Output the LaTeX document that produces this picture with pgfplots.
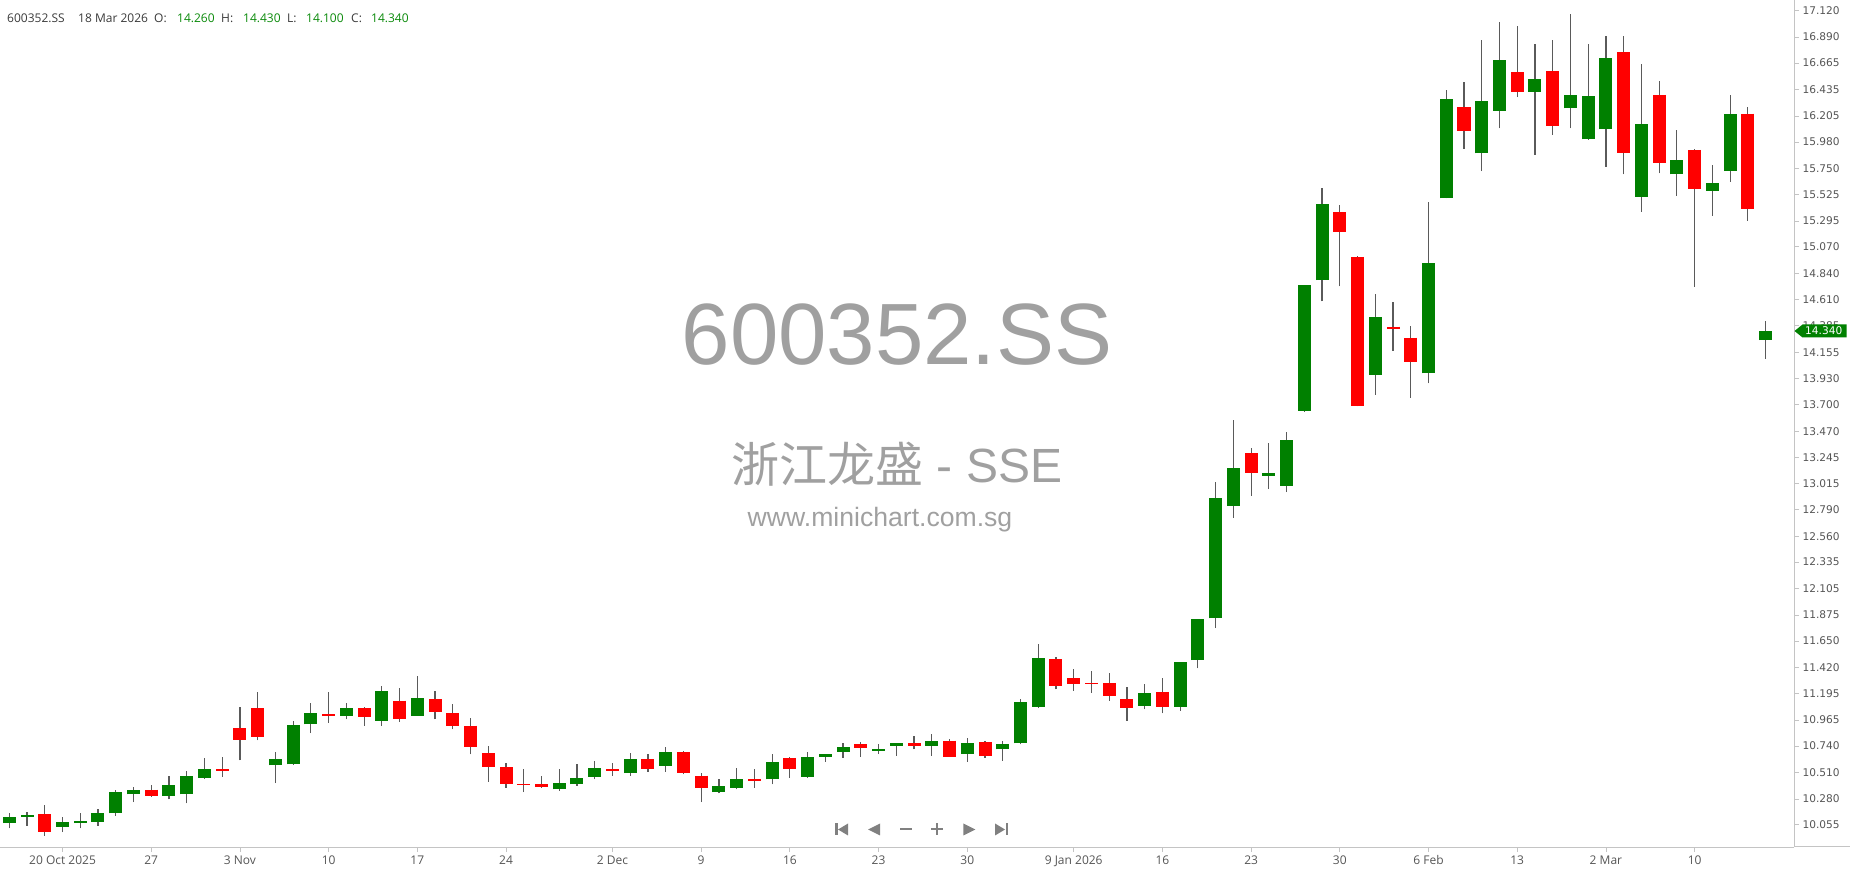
\documentclass[border=0pt]{standalone}
\usepackage{pgfplots}
\pgfplotsset{compat=1.18}
\usepackage{pgfplotstable}
\usepackage{fontspec}
\setmainfont{Open Sans}
\newfontfamily\dejavu{DejaVu Sans}
\newfontfamily\arialf{Liberation Sans}
\newfontfamily\cjk{Noto Sans CJK SC}

\definecolor{up}{HTML}{008000}
\definecolor{down}{HTML}{FF0000}
\definecolor{wick}{HTML}{5A5A5A}
\definecolor{axisgray}{HTML}{C4C4C4}
\definecolor{ticktext}{HTML}{555555}
\definecolor{wm}{HTML}{A0A0A0}
\definecolor{navgray}{HTML}{808080}
\definecolor{hdrtext}{HTML}{3A3A3A}
\definecolor{hdrval}{HTML}{0A8A0A}

% daily OHLC, one row per trading session (i = session index)
\pgfplotstableread{
i O H L C
0 10.071 10.155 10.025 10.120
1 10.126 10.164 10.048 10.138
2 10.146 10.225 9.961 9.993
3 10.039 10.120 9.993 10.080
4 10.071 10.155 10.025 10.091
5 10.080 10.190 10.048 10.155
6 10.155 10.360 10.135 10.340
7 10.320 10.384 10.253 10.360
8 10.360 10.404 10.300 10.308
9 10.308 10.482 10.277 10.404
10 10.320 10.525 10.242 10.482
11 10.462 10.632 10.455 10.537
12 10.537 10.644 10.473 10.525
13 10.893 11.078 10.615 10.788
14 11.066 11.208 10.788 10.820
15 10.572 10.687 10.418 10.624
16 10.580 10.959 10.575 10.924
17 10.927 11.110 10.852 11.023
18 11.014 11.208 10.939 11.003
19 11.003 11.110 10.971 11.066
20 11.066 11.078 10.916 10.991
21 10.959 11.263 10.916 11.219
22 11.133 11.240 10.950 10.971
23 11.003 11.350 11.000 11.153
24 11.144 11.219 10.971 11.034
25 11.023 11.101 10.884 10.916
26 10.916 10.979 10.667 10.731
27 10.676 10.742 10.427 10.557
28 10.557 10.589 10.375 10.407
29 10.407 10.537 10.340 10.398
30 10.407 10.482 10.375 10.386
31 10.363 10.537 10.352 10.415
32 10.407 10.580 10.395 10.462
33 10.473 10.612 10.450 10.548
34 10.537 10.589 10.482 10.525
35 10.505 10.676 10.482 10.624
36 10.624 10.667 10.514 10.537
37 10.569 10.731 10.514 10.687
38 10.687 10.699 10.494 10.505
39 10.482 10.505 10.253 10.375
40 10.340 10.450 10.329 10.395
41 10.375 10.548 10.363 10.450
42 10.450 10.537 10.375 10.439
43 10.450 10.667 10.407 10.601
44 10.636 10.647 10.462 10.537
45 10.474 10.688 10.462 10.647
46 10.647 10.670 10.604 10.668
47 10.688 10.763 10.636 10.731
48 10.754 10.775 10.647 10.722
49 10.699 10.754 10.668 10.711
50 10.743 10.766 10.656 10.763
51 10.763 10.829 10.711 10.743
52 10.743 10.841 10.656 10.786
53 10.786 10.798 10.645 10.647
54 10.668 10.806 10.604 10.763
55 10.775 10.786 10.636 10.656
56 10.711 10.786 10.613 10.754
57 10.763 11.145 10.754 11.122
58 11.078 11.622 11.067 11.500
59 11.492 11.512 11.231 11.263
60 11.327 11.405 11.220 11.275
61 11.286 11.393 11.200 11.275
62 11.286 11.373 11.133 11.177
63 11.145 11.252 10.960 11.067
64 11.090 11.275 11.058 11.197
65 11.208 11.327 11.023 11.078
66 11.078 11.470 11.046 11.469
67 11.484 11.845 11.413 11.840
68 11.846 13.028 11.762 12.889
69 12.825 13.569 12.720 13.149
70 13.279 13.322 12.911 13.106
71 13.084 13.365 12.967 13.106
72 12.998 13.461 12.942 13.396
73 13.646 14.740 13.640 14.736
74 14.782 15.579 14.597 15.446
75 15.369 15.437 14.727 15.199
76 14.983 14.990 13.685 13.689
77 13.961 14.662 13.785 14.464
78 14.378 14.589 14.170 14.355
79 14.282 14.381 13.759 14.074
80 13.973 15.457 13.886 14.933
81 15.491 16.431 15.490 16.353
82 16.281 16.501 15.922 16.075
83 15.882 16.865 15.728 16.333
84 16.252 17.018 16.099 16.691
85 16.584 16.984 16.370 16.414
86 16.414 16.833 15.870 16.529
87 16.593 16.865 16.044 16.119
88 16.272 17.093 16.099 16.388
89 16.003 16.833 16.000 16.376
90 16.090 16.897 15.763 16.712
91 16.758 16.897 15.699 15.882
92 15.503 16.660 15.373 16.139
93 16.388 16.506 15.708 15.795
94 15.699 16.084 15.514 15.824
95 15.911 15.922 14.722 15.569
96 15.558 15.780 15.338 15.627
97 15.728 16.388 15.633 16.226
98 16.226 16.281 15.298 15.396
99 14.260 14.430 14.100 14.340
}\ohlc

\begin{document}
\begin{tikzpicture}[x=1bp,y=1bp]

% background watermark
\node[text=wm, font=\arialf\fontsize{87bp}{90bp}\selectfont, inner sep=0] at (897,512) {600352.SS};
\node[text=wm, font=\arialf\fontsize{48bp}{52bp}\selectfont, inner sep=0] at (897,383) {{\cjk 浙江龙盛} - SSE};
\node[text=wm, font=\arialf\fontsize{26.6bp}{30bp}\selectfont, inner sep=0] at (880,327) {www.minichart.com.sg};

\begin{axis}[
  at={(0,0)}, anchor=south west,
  scale only axis, width=1794bp, height=847bp,
  xmin=-0.524, xmax=100.603, ymin=9.863, ymax=17.212,
  axis x line*=bottom, axis y line*=right,
  axis line style={draw=axisgray, line width=1bp},
  tick align=outside, major tick length=5bp,
  tick style={draw=axisgray, line width=0.8bp},
  xtick={3,8,13,18,23,28,34,39,44,49,54,60,65,70,75,80,85,90,95},
  xticklabels={20 Oct 2025,27,3 Nov,10,17,24,2 Dec,9,16,23,30,9 Jan 2026,16,23,30,6 Feb,13,2 Mar,10},
  ytick={10.055,10.280,10.510,10.740,10.965,11.195,11.420,11.650,11.875,12.105,12.335,12.560,12.790,13.015,13.245,13.470,13.700,13.930,14.155,14.385,14.610,14.840,15.070,15.295,15.525,15.750,15.980,16.205,16.435,16.665,16.890,17.120},
  yticklabels={10.055,10.280,10.510,10.740,10.965,11.195,11.420,11.650,11.875,12.105,12.335,12.560,12.790,13.015,13.245,13.470,13.700,13.930,14.155,14.385,14.610,14.840,15.070,15.295,15.525,15.750,15.980,16.205,16.435,16.665,16.890,17.120},
  xticklabel style={font=\fontsize{12bp}{14bp}\selectfont, text=ticktext},
  yticklabel style={font=\dejavu\fontsize{10.6bp}{12bp}\selectfont, text=ticktext},
]
% wicks: low to high
\addplot[draw=none, mark=none,
  error bars/.cd, y dir=plus, y explicit, error mark=none,
  error bar style={draw=wick, line width=1.2bp}]
  table[x=i, y=L, y error plus expr={\thisrow{H}-\thisrow{L}}] {\ohlc};
% rising bodies: open up to close
\addplot[draw=none, mark=none,
  error bars/.cd, y dir=plus, y explicit, error mark=none,
  error bar style={draw=up, line width=13bp}]
  table[x=i, y=O, y error plus expr={max(\thisrow{C}-\thisrow{O},0)}] {\ohlc};
% falling bodies: open down to close
\addplot[draw=none, mark=none,
  error bars/.cd, y dir=minus, y explicit, error mark=none,
  error bar style={draw=down, line width=13bp}]
  table[x=i, y=O, y error minus expr={max(\thisrow{O}-\thisrow{C},0)}] {\ohlc};
\coordinate (tag) at (axis cs:100.603,14.34);
\end{axis}

% bottom rule continues under the price scale
\draw[axisgray, line width=1bp] (1794,0) -- (1850,0);

% last price tag
\fill[up] ([xshift=0.5bp]tag) -- ++(8,6.5) -- ++(44,0) -- ++(0,-13) -- ++(-44,0) -- cycle;
\node[anchor=west, text=white, inner sep=0, font=\dejavu\fontsize{10.6bp}{12bp}\selectfont] at ([xshift=11bp]tag) {14.340};

% header line
\begin{scope}[every node/.style={anchor=base west, inner sep=0, font=\fontsize{12bp}{14bp}\selectfont}]
\node[text=hdrtext] at (7,824.3) {600352.SS};
\node[text=hdrtext] at (78,824.3) {18 Mar 2026};
\node[text=hdrtext] at (154,824.3) {O:};
\node[text=hdrval] at (177,824.3) {14.260};
\node[text=hdrtext] at (221,824.3) {H:};
\node[text=hdrval] at (243,824.3) {14.430};
\node[text=hdrtext] at (287,824.3) {L:};
\node[text=hdrval] at (306,824.3) {14.100};
\node[text=hdrtext] at (351,824.3) {C:};
\node[text=hdrval] at (371,824.3) {14.340};
\end{scope}

% navigation buttons
\begin{scope}[navgray]
\fill (835,11.5) rectangle (837.5,23.5);
\fill (838,17.5) -- (848,23.5) -- (848,11.5) -- cycle;
\fill (868,17.5) -- (880,23.5) -- (880,11.5) -- cycle;
\fill (899.7,16.5) rectangle (911.7,18.5);
\fill (931.3,16.5) rectangle (943.3,18.5);
\fill (936.3,11.5) rectangle (938.3,23.5);
\fill (963.3,11.5) -- (975.3,17.5) -- (963.3,23.5) -- cycle;
\fill (995,11.5) -- (1005,17.5) -- (995,23.5) -- cycle;
\fill (1005.5,11.5) rectangle (1008,23.5);
\end{scope}

\pgfresetboundingbox
\path[use as bounding box] (0,-27) rectangle (1850,847);
\end{tikzpicture}
\end{document}
